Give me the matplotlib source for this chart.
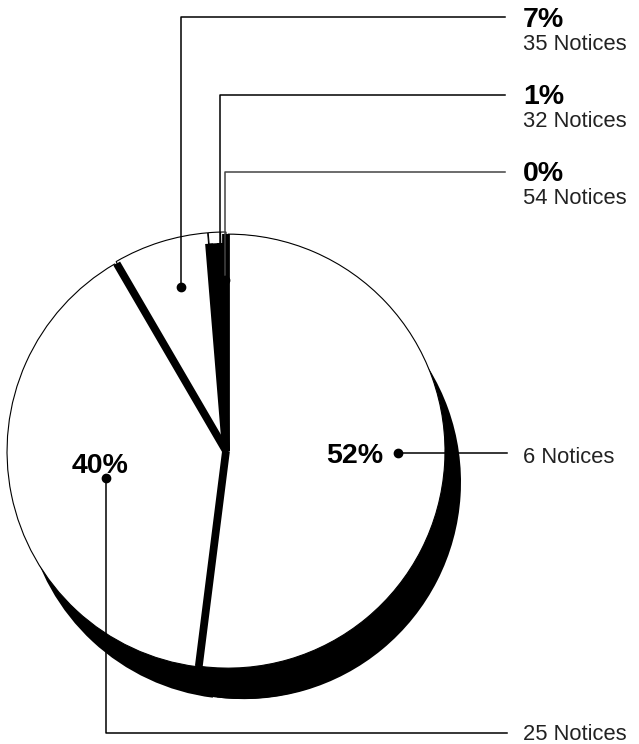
import numpy as np
import matplotlib.pyplot as plt
from matplotlib.patches import Circle, Wedge

plt.rcParams['font.family'] = ['Liberation Sans', 'DejaVu Sans']

# slice shares, clockwise from 12 o'clock
shares = [52.0, 39.6, 7.1, 0.9, 0.4]
pct_labels = ['52%', '40%', '7%', '1%', '0%']
notice_labels = ['6 Notices', '25 Notices', '35 Notices', '32 Notices', '54 Notices']

W, H = 639, 744
cx, cy = 226, H - 451
R = 217
sdx, sdy = 16, -31
expl = [2, 2, 2, 2, 2]

fig = plt.figure(figsize=(W / 100, H / 100), dpi=100)
ax = fig.add_axes([0, 0, 1, 1])

# shadow
ax.add_patch(Circle((cx + sdx, cy + sdy), R, color='black', lw=0, zorder=1))
ax.pie(shares, radius=R, center=(cx + sdx, cy + sdy), startangle=90,
       counterclock=False, explode=expl, colors=['black'] * 5,
       wedgeprops=dict(linewidth=0, zorder=1))

# black base under the slices
ax.add_patch(Circle((cx, cy), R, color='black', lw=0, zorder=2))

ax.pie(shares, radius=R, center=(cx, cy), startangle=90,
       counterclock=False, explode=expl, colors=['white'] * 5,
       wedgeprops=dict(edgecolor='black', linewidth=0.8, zorder=3))

# boundaries between slices
cum = np.cumsum([0] + shares) / sum(shares)
bounds = (90 - 360 * cum) % 360
thin_start = bounds[3]
ax.add_patch(Wedge((cx, cy), R - 9, 90, thin_start, color='black', lw=0, zorder=4))
for i, b in enumerate(bounds[:-1]):
    r_end = R if i in (0, 1, 2) else R - 9
    t = np.radians(b)
    ax.plot([cx, cx + r_end * np.cos(t)], [cy, cy + r_end * np.sin(t)],
            color='black', lw=5.6, solid_capstyle='butt', zorder=5)

# leader lines (pixel layout)
def px(x, y):
    return x, H - y

leaders = [
    [(398, 453), (507, 453)],
    [(106, 478), (106, 733), (507, 733)],
    [(181, 287), (181, 17), (505, 17)],
    [(220, 280), (220, 95), (505, 95)],
    [(225, 280), (225, 172), (505, 172)],
]
line_cols = ['black', 'black', 'black', 'black', '#444444']
for pts, c in zip(leaders, line_cols):
    xs = [p[0] for p in pts]
    ys = [H - p[1] for p in pts]
    ax.plot(xs, ys, color=c, lw=1.1, zorder=6)
    ax.plot(xs[0], ys[0], 'o', color='black', ms=6, zorder=6)

txt = '#222222'
bold = dict(fontsize=20.5, fontweight='bold', color='black', va='baseline')
reg = dict(fontsize=15.8, color=txt, va='baseline')

ax.text(*px(383, 463), pct_labels[0], ha='right', **bold)
ax.text(*px(100, 473), pct_labels[1], ha='center', **bold)
ax.text(*px(523, 463), notice_labels[0], ha='left', **reg)
ax.text(*px(523, 740), notice_labels[1], ha='left', **reg)

top_base = [27, 104, 181]
for k, yb in zip([2, 3, 4], top_base):
    ax.text(*px(523, yb), pct_labels[k], ha='left', **bold)
    ax.text(*px(523, yb + 23), notice_labels[k], ha='left', **reg)

ax.set_xlim(0, W)
ax.set_ylim(0, H)
ax.set_aspect('equal')
ax.axis('off')

fig.savefig('out.png', dpi=100, facecolor='white')
